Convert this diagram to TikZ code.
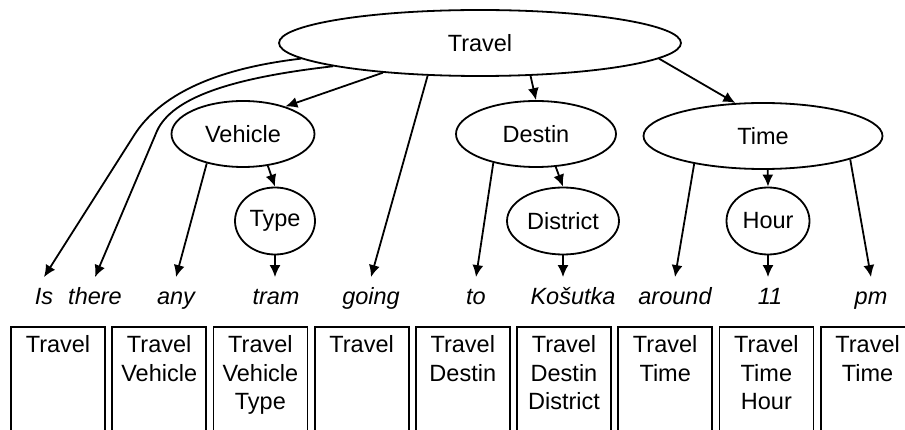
\documentclass[tikz,border=0pt]{standalone}
\usepackage{fontspec}
\setmainfont{Liberation Sans}
\usetikzlibrary{shapes.geometric,arrows.meta}

\newcommand{\cellstack}[1]{\parbox[t][100pt][t]{90pt}{\centering #1}}

\begin{document}
\begin{tikzpicture}[x=1pt,y=-1pt,line width=1.8pt,
    font=\fontsize{23.5}{28.5}\selectfont,
    concept/.style={draw,ellipse,inner sep=0pt},
    word/.style={font=\fontsize{23.5}{28.5}\selectfont\itshape,anchor=base,
        inner xsep=0pt,inner ysep=10pt,text height=17pt,text depth=6pt},
    sembox/.style={draw,anchor=north,inner xsep=2pt,inner ysep=9pt},
    link/.style={-{Latex[length=12pt,width=11pt]}}]
    \useasboundingbox (0,0) rectangle (905,430);
    \clip (0,0) rectangle (905,430);

    % concept tree
    \node[concept,minimum width=402pt,minimum height=66pt] (travel) at (480,43) {Travel};
    \node[concept,minimum width=143pt,minimum height=66pt] (vehicle) at (243,134) {Vehicle};
    \node[concept,minimum width=80pt,minimum height=67pt] (type) at (275,221) {Type};
    \node[concept,minimum width=160pt,minimum height=66pt] (destin) at (536,134) {Destin};
    \node[concept,minimum width=112pt,minimum height=67pt] (district) at (563,221) {District};
    \node[concept,minimum width=239pt,minimum height=66pt] (time) at (763,136) {Time};
    \node[concept,minimum width=83pt,minimum height=67pt] (hour) at (768,221) {Hour};

    % words
    \node[word] (is) at (44,305) {Is};
    \node[word] (there) at (95,305) {there};
    \node[word] (any) at (176,305) {any};
    \node[word] (tram) at (276,305) {tram};
    \node[word] (going) at (371,305) {going};
    \node[word] (to) at (476,305) {to};
    \node[word] (kosutka) at (573,305) {Košutka};
    \node[word] (around) at (675,305) {around};
    \node[word] (eleven) at (770,305) {11};
    \node[word] (pm) at (871,305) {pm};

    % edges
    \draw[link] (travel.185) .. controls (195,71) and (152,106) .. (133,137) -- (is.north);
    \draw[link] (travel.189) .. controls (230,78) and (172,98) .. (157,131) -- (there.north);
    \draw[link] (travel.197) -- (vehicle.33);
    \draw[link] (travel.212) -- (going.north);
    \draw[link] (travel.-33) -- (destin.north);
    \draw[link] (travel.-5) -- (time.130);
    \draw[link] (vehicle.219) -- (any.north);
    \draw[link] (vehicle.-52) -- (type.north);
    \draw[link] (type.south) -- (type.south |- tram.north);
    \draw[link] (destin.214) -- (to.north);
    \draw[link] (destin.-59) -- (district.north);
    \draw[link] (district.south) -- (district.south |- kosutka.north);
    \draw[link] (time.-82) -- (hour.north);
    \draw[link] (time.202) -- (around.north);
    \draw[link] (hour.south) -- (hour.south |- eleven.north);
    \draw[link] (time.-15) -- (pm.north);

    % stacks
    \foreach \i/\txt in {0/Travel,1/{Travel\\Vehicle},2/{Travel\\Vehicle\\Type},
        3/Travel,4/{Travel\\Destin},5/{Travel\\Destin\\District},
        6/{Travel\\Time},7/{Travel\\Time\\Hour},8/{Travel\\Time}}
        \node[sembox] (box\i) at (58+101.2*\i,326) {\cellstack{\txt}};
\end{tikzpicture}
\end{document}
